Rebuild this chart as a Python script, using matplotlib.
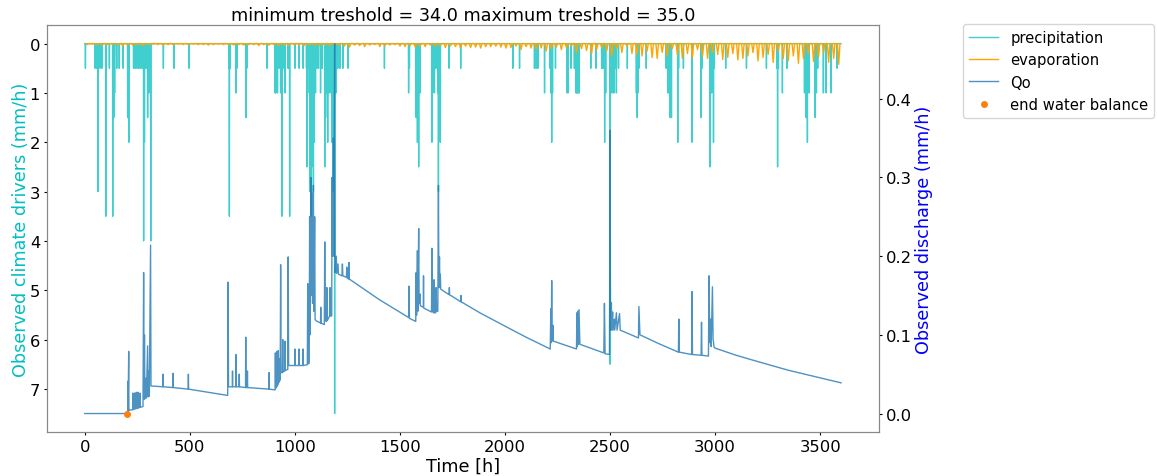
import numpy as np
import matplotlib.pyplot as plt

# precipitation events: hour and intensity (mm/h), zero elsewhere
precip_hours = [
    3, 49, 57, 63, 73, 82, 100, 117,
    133, 138, 142, 152, 164, 182, 204, 207, 210,
    232, 240, 248, 256, 264, 272, 280, 284,
    291, 299, 305, 314, 374, 425, 496,
    686, 688, 692, 720, 724, 767, 771, 867,
    906, 909, 912, 917, 925, 932, 938, 944, 953, 968, 975,
    1000, 1020, 1039, 1055, 1058, 1061, 1066,
    1072, 1076, 1080, 1084, 1088, 1092, 1098,
    1104, 1112, 1122, 1130, 1142, 1146, 1150, 1156,
    1163, 1170, 1176, 1183, 1189, 1196,
    1204, 1214, 1228, 1252, 1426,
    1541, 1545, 1577, 1580, 1583, 1586, 1589, 1592, 1596,
    1652, 1656, 1660, 1664, 1672, 1680, 1683, 1687, 1692,
    1734, 1789, 2037, 2069, 2140, 2148, 2156, 2188,
    2214, 2218, 2222, 2226, 2240,
    2295, 2300, 2314, 2330, 2337, 2341, 2345, 2349, 2353,
    2408, 2432, 2460, 2466, 2474, 2479,
    2500, 2506, 2510, 2514, 2519, 2524, 2530, 2540, 2582,
    2625, 2629, 2633, 2637, 2672,
    2767, 2775, 2779, 2786, 2792, 2822, 2826, 2849,
    2890, 2932, 2937, 2975, 2979, 2983, 2992, 2996,
    3050, 3149, 3244, 3293, 3297, 3301, 3320, 3341,
    3425, 3433, 3439, 3447, 3476, 3482, 3488,
    3515, 3528, 3551, 3580,
]
precip_mm = [
    0.5, 0.5, 0.5, 3.0, 0.5, 0.5, 3.5, 0.5,
    3.5, 1.5, 1.0, 0.5, 0.5, 0.5, 1.5, 0.5, 2.0,
    0.5, 0.5, 0.5, 0.5, 0.5, 0.5, 4.0, 2.0,
    0.5, 1.5, 1.0, 4.0, 0.5, 0.5, 0.5,
    0.5, 3.5, 0.5, 1.0, 0.5, 1.5, 0.5, 0.5,
    1.0, 1.0, 0.5, 1.0, 0.5, 1.0, 3.5, 0.5, 1.0, 0.5, 3.5,
    0.5, 0.5, 0.5, 0.5, 2.5, 1.0, 0.5,
    3.0, 3.5, 2.5, 1.5, 3.0, 2.0, 1.0,
    0.5, 0.5, 1.0, 0.5, 2.5, 1.5, 1.0, 2.0,
    1.0, 1.0, 2.0, 3.0, 7.5, 1.0,
    0.5, 0.5, 0.5, 0.5, 0.5,
    1.0, 0.5, 1.5, 0.5, 2.0, 1.0, 2.5, 0.5, 1.0,
    2.0, 1.0, 0.5, 1.0, 0.5, 1.0, 3.0, 0.5, 2.0,
    0.5, 0.5, 0.5, 0.5, 0.5, 0.5, 0.5, 1.0,
    0.5, 1.0, 2.0, 1.0, 0.5,
    1.0, 1.0, 0.5, 0.5, 1.0, 1.0, 1.0, 1.0, 1.0,
    0.5, 0.5, 0.5, 0.5, 2.0, 1.0,
    6.5, 1.0, 0.5, 1.0, 1.0, 0.5, 1.0, 0.5, 0.5,
    1.0, 1.5, 1.0, 0.5, 0.5,
    0.5, 1.0, 1.0, 1.5, 1.5, 2.0, 0.5, 0.5,
    2.0, 1.5, 0.5, 2.5, 1.0, 1.0, 2.0, 0.5,
    0.5, 0.5, 0.5, 0.5, 2.5, 0.5, 1.0, 0.5,
    1.0, 1.5, 2.0, 1.0, 1.5, 1.0, 0.5,
    1.0, 1.0, 1.0, 0.5,
]

# evaporation: midday peak of each day (mm/h)
evap_peak = [
    0.02, 0.01, 0.02, 0.03, 0.02, 0.01, 0.02, 0.05, 0.02, 0.03,
    0.02, 0.04, 0.02, 0.01, 0.02, 0.03, 0.02, 0.02, 0.01, 0.02,
    0.02, 0.01, 0.02, 0.02, 0.03, 0.02, 0.01, 0.02, 0.02, 0.03,
    0.02, 0.03, 0.02, 0.02, 0.04, 0.02, 0.03, 0.02, 0.04, 0.03,
    0.03, 0.02, 0.03, 0.04, 0.02, 0.03, 0.03, 0.02, 0.04, 0.03,
    0.03, 0.05, 0.07, 0.03, 0.04, 0.06, 0.03, 0.02, 0.06, 0.04,
    0.03, 0.02, 0.05, 0.06, 0.04, 0.07, 0.05, 0.06, 0.03, 0.05,
    0.04, 0.08, 0.05, 0.06, 0.09, 0.05, 0.08, 0.07, 0.09, 0.06,
    0.06, 0.05, 0.07, 0.09, 0.08, 0.05, 0.12, 0.06, 0.09, 0.11,
    0.09, 0.15, 0.10, 0.07, 0.12, 0.08, 0.05, 0.18, 0.10, 0.14,
    0.20, 0.12, 0.08, 0.15, 0.25, 0.10, 0.18, 0.05, 0.20, 0.22,
    0.25, 0.15, 0.28, 0.30, 0.18, 0.25, 0.10, 0.22, 0.30, 0.20,
    0.28, 0.12, 0.25, 0.30, 0.18, 0.22, 0.32, 0.28, 0.20, 0.33,
    0.30, 0.25, 0.18, 0.35, 0.28, 0.22, 0.38, 0.15, 0.30, 0.35,
    0.25, 0.40, 0.30, 0.20, 0.36, 0.28, 0.18, 0.38, 0.30, 0.42,
]

# observed discharge Qo, read as (hour, mm/h) points
qo_hours = [
    0, 200, 204, 205, 206, 209, 210,
    228, 229, 230, 236, 237, 238, 244, 245, 246, 252, 253, 254, 262, 263, 264,
    277, 280, 282, 284, 286, 291, 292, 293, 299, 301, 305, 307, 313, 315,
    372, 373, 374, 419, 420, 421, 492, 493, 494, 680,
    682, 684, 702, 703, 704, 718, 719, 720, 734, 735, 736,
    765, 766, 767, 773, 774, 775, 876, 877, 878,
    906, 907, 908, 913, 914, 915, 920, 921, 922, 928, 929, 930,
    932, 934, 941, 942, 943, 952, 953, 954, 966, 968, 970,
    999, 1000, 1001, 1019, 1020, 1021, 1038, 1039, 1040, 1059,
    1061, 1063, 1068, 1070, 1072, 1076, 1078, 1082, 1084, 1088, 1090, 1094, 1096, 1100,
    1122, 1123, 1124, 1140, 1142, 1144, 1150, 1152, 1154, 1165, 1167, 1169,
    1175, 1177, 1179, 1183, 1185, 1189, 1191, 1197, 1199, 1205, 1207,
    1224, 1226, 1228, 1245, 1247, 1249, 1256, 1257, 1258,
    1400, 1541, 1543, 1545, 1575, 1577, 1579, 1583, 1585, 1589, 1591, 1595, 1597,
    1611, 1612, 1613, 1650, 1652, 1654, 1660, 1662, 1664, 1670, 1672, 1674,
    1680, 1683, 1685, 1688, 1690, 1692, 1694,
    1734, 1735, 1736, 1789, 1790, 1791, 1880, 2000, 2100, 2215,
    2218, 2220, 2222, 2224, 2228, 2230,
    2340, 2342, 2344, 2347, 2349, 2352, 2356,
    2470, 2473, 2476, 2497, 2500, 2502, 2506, 2508, 2512, 2514,
    2520, 2522, 2530, 2533, 2545, 2548,
    2635, 2637, 2640, 2642, 2730,
    2825, 2827, 2829, 2888, 2890, 2892, 2933, 2935, 2937,
    2968, 2971, 2974, 2978, 2981, 2987, 2990, 2995,
    3001, 3100, 3190, 3348, 3506, 3599,
]
qo_mm = [
    0.0, 0.0, 0.002, 0.041, 0.003, 0.079, 0.004,
    0.005, 0.026, 0.005, 0.006, 0.026, 0.006, 0.006, 0.027, 0.007, 0.007, 0.027, 0.007, 0.008, 0.026, 0.008,
    0.009, 0.179, 0.018, 0.100, 0.019, 0.020, 0.045, 0.020, 0.086, 0.021, 0.054, 0.022, 0.214, 0.035,
    0.034, 0.050, 0.034, 0.033, 0.051, 0.033, 0.031, 0.050, 0.031, 0.023,
    0.167, 0.034, 0.034, 0.054, 0.034, 0.034, 0.075, 0.034, 0.034, 0.050, 0.034,
    0.033, 0.097, 0.033, 0.033, 0.054, 0.033, 0.031, 0.052, 0.031,
    0.030, 0.077, 0.032, 0.034, 0.079, 0.035, 0.037, 0.080, 0.039, 0.042, 0.070, 0.043,
    0.189, 0.052, 0.052, 0.094, 0.053, 0.054, 0.092, 0.055, 0.056, 0.199, 0.061,
    0.061, 0.082, 0.061, 0.061, 0.082, 0.061, 0.061, 0.082, 0.061, 0.062,
    0.165, 0.063, 0.064, 0.25, 0.10, 0.30, 0.15, 0.28, 0.14, 0.29, 0.13, 0.25, 0.12, 0.118,
    0.115, 0.135, 0.115, 0.113, 0.218, 0.118, 0.117, 0.16, 0.118, 0.124, 0.16, 0.124,
    0.124, 0.30, 0.20, 0.35, 0.20, 0.47, 0.179, 0.20, 0.178, 0.19, 0.177,
    0.175, 0.19, 0.175, 0.173, 0.186, 0.172, 0.171, 0.192, 0.171,
    0.145, 0.122, 0.162, 0.121, 0.117, 0.179, 0.125, 0.207, 0.130, 0.235, 0.140, 0.152, 0.137,
    0.135, 0.175, 0.134, 0.129, 0.210, 0.130, 0.128, 0.170, 0.128, 0.128, 0.160, 0.130,
    0.130, 0.290, 0.160, 0.199, 0.160, 0.177, 0.158,
    0.151, 0.160, 0.151, 0.142, 0.150, 0.142, 0.128, 0.111, 0.097, 0.082,
    0.133, 0.090, 0.169, 0.092, 0.112, 0.092,
    0.082, 0.128, 0.085, 0.130, 0.088, 0.132, 0.088,
    0.077, 0.140, 0.076, 0.075, 0.360, 0.106, 0.141, 0.106, 0.129, 0.106,
    0.120, 0.106, 0.128, 0.106, 0.127, 0.106,
    0.096, 0.136, 0.116, 0.100, 0.089,
    0.078, 0.120, 0.078, 0.075, 0.155, 0.075, 0.074, 0.116, 0.074,
    0.073, 0.175, 0.090, 0.120, 0.085, 0.161, 0.095, 0.084,
    0.083, 0.074, 0.067, 0.055, 0.045, 0.039,
]

end_balance_hour = [200]
end_balance_qo = [0.0]

n_hours = 3600


def build_series():
    hours = np.arange(n_hours)
    precip = np.zeros(n_hours)
    precip[precip_hours] = precip_mm

    # each day: zero in the morning, peak at noon, zero in the evening
    days = np.arange(len(evap_peak)) * 24
    evap_t = np.column_stack([days + 6, days + 12, days + 18]).ravel()
    evap = np.column_stack([np.zeros(len(evap_peak)), evap_peak,
                            np.zeros(len(evap_peak))]).ravel()
    return hours, precip, evap_t, evap


def main():
    hours, precip, evap_t, evap = build_series()

    fig = plt.figure(figsize=(11.57, 4.77), dpi=100)
    ax1 = fig.add_axes([0.0406, 0.0922, 0.719, 0.853])
    ax2 = ax1.twinx()

    l1, = ax1.plot(hours, precip, color='c', lw=1.0, alpha=0.75, label='precipitation')
    l2, = ax1.plot(evap_t, evap, color='orange', lw=1.0, label='evaporation')
    ax1.set_ylim(7.875, -0.375)
    ax1.set_xlim(-180, 3779)
    ax1.set_ylabel('Observed climate drivers (mm/h)', color='c', fontsize=12.7, labelpad=0)
    ax1.set_xlabel('Time [h]', fontsize=12.7, labelpad=2)
    ax1.set_title('minimum treshold = 34.0 maximum treshold = 35.0', fontsize=12.7, pad=4)

    l3, = ax2.plot(qo_hours, qo_mm, color='tab:blue', lw=1.0, alpha=0.8, label='Qo')
    l4, = ax2.plot(end_balance_hour, end_balance_qo, '.', color='tab:orange', ms=8,
                   label='end water balance')
    ax2.set_ylim(-0.0235, 0.4935)
    ax2.set_ylabel('Observed discharge (mm/h)', color='b', fontsize=12.7, labelpad=2)

    for ax in (ax1, ax2):
        ax.tick_params(labelsize=11.8, length=2.5, pad=2.5)
        for sp in ax.spines.values():
            sp.set_color('#888888')

    fig.legend(handles=[l1, l2, l3, l4], loc='upper left',
               bbox_to_anchor=(0.826, 0.963), fontsize=10.6)

    fig.savefig('out.png', dpi=100)


if __name__ == "__main__":
    main()
